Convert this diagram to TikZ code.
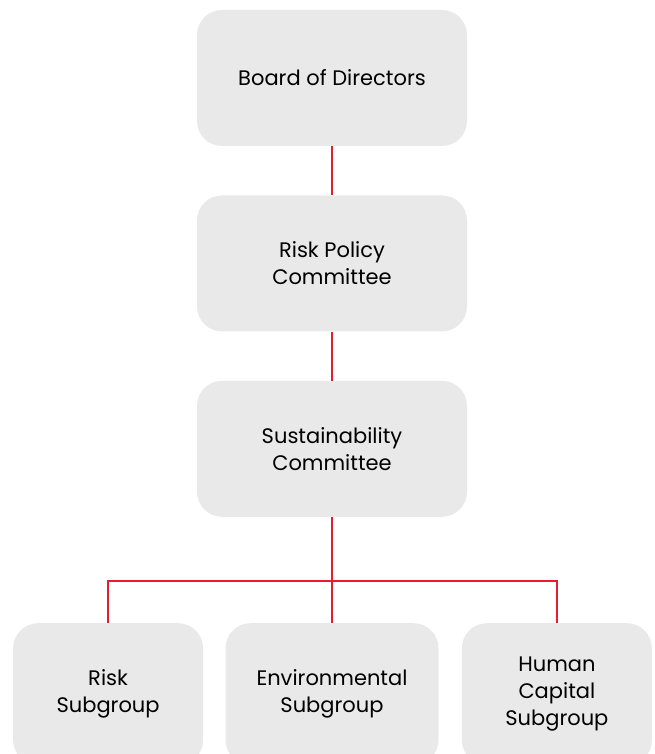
\documentclass[tikz,border=0pt]{standalone}
\usepackage{fontspec}
\setmainfont{Poppins}
\usetikzlibrary{positioning}
\definecolor{orgred}{RGB}{232,28,46}
\definecolor{orggray}{RGB}{233,233,233}

\begin{document}
\begin{tikzpicture}[x=1pt,y=1pt,node distance=49pt,
    orgbox/.style={fill=orggray,rounded corners=25pt,align=center,
      minimum width=270pt,minimum height=136pt,
      font=\fontsize{21}{27}\selectfont},
    subbox/.style={orgbox,minimum width=190pt,minimum height=142pt},
    link/.style={draw=orgred,line width=2pt}]
  \useasboundingbox (0,0) rectangle (654,-754);
  \node[orgbox] (board) at (332,-78) {Board of Directors};
  \node[orgbox,below=of board] (rpc) {Risk Policy\\Committee};
  \node[orgbox,below=of rpc] (sc) {Sustainability\\Committee};
  \node[subbox,minimum width=213pt,below=106pt of sc] (env) {Environmental\\Subgroup};
  \node[subbox,left=22pt of env] (risk) {Risk\\Subgroup};
  \node[subbox,right=23pt of env] (human) {Human\\Capital\\Subgroup};
  \coordinate[below=64pt of sc.south] (bus);
  \draw[link] (board) -- (rpc);
  \draw[link] (rpc) -- (sc);
  \draw[link] (sc) -- (env);
  \draw[link] (risk.north) |- (bus) -| (human.north);
\end{tikzpicture}
\end{document}
